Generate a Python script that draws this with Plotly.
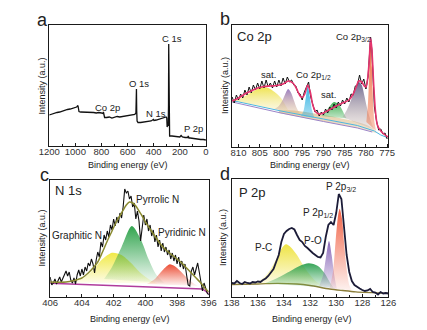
import plotly.graph_objects as go

FONT = "Arial, Liberation Sans, sans-serif"
W, H = 427, 330

# ---------------- Panel a: survey ----------------
SURVEY_BE = [1200, 1180, 1160, 1140, 1120, 1100, 1080, 1060, 1040, 1020,
             1000, 990, 980, 976, 972, 960, 940, 920, 900, 880,
             860, 840, 820, 800, 790, 785, 781, 776, 760, 740,
             720, 700, 680, 660, 640, 620, 600, 580, 560, 545,
             536, 532, 530, 527, 524, 520, 500, 480, 460, 440,
             420, 402, 398, 380, 360, 340, 320, 305, 300, 297,
             293, 289, 286.5, 285, 283.5, 282, 278, 260, 240, 220,
             200, 190, 185, 180, 160, 140, 135, 130, 120, 100,
             80, 60, 40, 20, 0]
SURVEY_I = [31, 32, 32.5, 33.5, 34, 35, 35.5, 36.5, 37, 37.5,
            38.5, 39, 40.5, 37, 34.5, 34, 34, 33.5, 34, 33.5,
            33.5, 33, 33.5, 33, 32.5, 34, 30, 28.5, 28.5, 29,
            28, 29, 29.5, 29, 29.5, 30, 30.5, 30.5, 31, 31.5,
            33, 57, 35, 25, 24, 23.5, 23.5, 24, 24.5, 25,
            25, 26.5, 25.5, 26, 27, 27.5, 28.5, 29, 28, 19,
            21, 20, 40, 102, 30, 11, 10, 10, 9.5, 9.5,
            9, 10.5, 9.5, 9, 8.5, 8.5, 10, 8, 8, 7.5,
            7, 7, 6.5, 6.5, 6]

# ---------------- Panel b: Co 2p ----------------
CO_BE = [811.5, 811, 810.5, 810, 809.5, 809, 808.5, 808, 807.5, 807,
         806.5, 806, 805.5, 805, 804.5, 804, 803.5, 803, 802.5, 802,
         801.5, 801, 800.5, 800, 799.5, 799, 798.5, 798, 797.5, 797,
         796.5, 796, 795.5, 795, 794.5, 794, 793.5, 793, 792.5, 792,
         791.5, 791, 790.5, 790, 789.5, 789, 788.5, 788, 787.5, 787,
         786.5, 786, 785.5, 785, 784.5, 784, 783.5, 783, 782.5, 782,
         781.5, 781, 780.5, 780,
         779.5, 779.2, 778.9, 778.6, 778.3, 778.0, 777.5, 777.0, 776.5, 776.0, 775.5, 775.0]
CO_RAW = [50, 44, 52, 47, 53, 49, 57, 52, 60, 54,
          62, 57, 64, 58, 66, 59, 67, 60, 64, 59,
          66, 60, 67, 61, 69, 63, 70, 65, 67, 62,
          61, 54, 53, 47, 55, 60, 65, 50, 43, 35,
          37, 31, 35, 32, 38, 34, 40, 37, 43, 39,
          45, 41, 47, 43, 49, 45, 53, 52, 61, 62,
          72, 63, 68, 58,
          70, 90, 110, 97, 68, 40, 26, 17, 18, 13, 14, 8]
CO_ENV_BE = [811.5, 810, 808.5, 807, 805.5, 804, 802.5, 801, 799.5, 798.3,
             797.2, 796.3, 795.5, 795, 794.4, 793.7, 793.1, 792.5, 791.8, 791,
             790, 788.5, 787, 785.5, 784, 783, 782.3, 781.7, 781, 780.4,
             780, 779.6, 779.2, 778.9, 778.6, 778.2, 777.8, 777.3, 776.5, 775.5,
             774.8]
CO_ENV = [46, 49, 53, 56, 59, 60.5, 61, 61.5, 63, 66,
          64, 58, 51, 49.5, 53, 62, 55, 42, 35, 33,
          34, 37.5, 41, 44, 47, 53, 60, 66, 65, 61,
          60, 68, 88, 109, 98, 65, 38, 22, 16, 12,
          10]
CO_BG1_BE = [811.5, 800, 790, 782, 778, 776.5, 775]
CO_BG1 = [46.5, 36, 28, 21.5, 16, 12, 9.5]
CO_BG2_BE = [811.5, 800, 790, 782, 778.5]
CO_BG2 = [45, 34, 25.5, 19, 15]
CO_TAN_BE = [800.5, 797, 792, 788, 784, 780.5, 778.5, 777.5, 780, 785, 790, 795, 800.5]
CO_TAN = [37, 36.5, 33.5, 30.5, 27, 23, 19, 14, 17, 21.5, 25.5, 29.5, 34]
CO_SAT1_BE = [811.5, 810, 808, 806, 804.5, 803, 801.5, 800, 799, 798]
CO_SAT1 = [46.5, 48, 52, 57, 60, 59, 55, 49, 42, 35]
CO_P2_BE = [801.5, 800.5, 799.5, 799, 798.3, 797.6, 797, 796.3, 795.5]
CO_P2 = [38, 41, 48, 53, 58, 54, 47, 39, 33]
CO_P3_BE = [795.3, 794.7, 794.2, 793.7, 793.2, 792.7, 792.1]
CO_P3 = [31, 36, 48, 61, 50, 37, 29]
CO_SAT2_BE = [790.5, 789.5, 788.5, 787.5, 786.5, 785.7, 785, 784.5]
CO_SAT2 = [31, 35, 41, 45, 43, 38, 32, 28.5]
CO_P5_BE = [785.5, 784.5, 783.5, 782.5, 781.7, 781, 780.3, 779.5, 778.5, 778]
CO_P5 = [30, 37, 47, 58, 65, 62, 50, 35, 22, 17]
CO_P6_BE = [779.9, 779.5, 779.2, 778.9, 778.6, 778.3, 778, 777.6]
CO_P6 = [25, 45, 75, 108, 80, 45, 25, 16]

# ---------------- Panel c: N 1s ----------------
N_BE = [406.0, 405.9, 405.8, 405.7, 405.6, 405.5, 405.4, 405.3, 405.2, 405.1,
        405.0, 404.9, 404.8, 404.7, 404.6, 404.5, 404.4, 404.3, 404.2, 404.1,
        404.0, 403.9, 403.8, 403.7, 403.6, 403.5, 403.4, 403.3, 403.2, 403.1,
        403.0, 402.9, 402.8, 402.7, 402.6, 402.5, 402.4, 402.3, 402.2, 402.1,
        402.0, 401.9, 401.8, 401.7, 401.6, 401.5, 401.4, 401.3, 401.2, 401.1,
        401.0, 400.9, 400.8, 400.7, 400.6, 400.5, 400.4, 400.3, 400.2, 400.1,
        400.0, 399.9, 399.8, 399.7, 399.6, 399.5, 399.4, 399.3, 399.2, 399.1,
        399.0, 398.9, 398.8, 398.7, 398.6, 398.5, 398.4, 398.3, 398.2, 398.1,
        398.0, 397.9, 397.8, 397.7, 397.6, 397.5, 397.4, 397.3, 397.2, 397.1,
        397.0, 396.9, 396.8, 396.7, 396.6, 396.5, 396.4, 396.3, 396.2, 396.1,
        396.0]
N_RAW = [20, 12, 14, 18, 13, 16, 20, 15, 19, 24,
         26, 21, 25, 17, 14, 19, 13, 22, 27, 21,
         28, 22, 30, 26, 34, 31, 38, 33, 24, 37,
         45, 40, 55, 50, 62, 57, 66, 60, 72, 67,
         78, 71, 80, 74, 84, 79, 90, 108, 104, 106,
         98, 101, 90, 94, 78, 86, 76, 56, 70, 82,
         72, 78, 66, 72, 61, 67, 55, 62, 50, 57,
         46, 54, 45, 50, 42, 47, 38, 44, 36, 42,
         33, 40, 30, 36, 28, 33, 22, 12, 11, 26,
         30, 22, 28, 34, 25, 15, 6, 14, 8, 4,
         2]
N_ENV_BE = [406.0, 405.0, 404.5, 404.0, 403.6, 403.3, 403.0, 402.7, 402.4, 402.1,
            401.8, 401.5, 401.2, 401.0, 400.8, 400.6, 400.4, 400.2, 400.0, 399.7,
            399.4, 399.0, 398.7, 398.4, 398.0, 397.7, 397.4, 397.1, 396.8, 396.5,
            396.2, 396.0]
N_ENV = [15, 15, 16.5, 19, 24, 29, 35, 45, 56, 66,
         76, 84, 92, 95, 94, 91, 86, 81, 75, 68,
         61, 52, 47, 43, 38, 34, 29, 24, 19, 14,
         8, 5]
N_BG_BE = [406.0, 396.4, 396.2, 396.0]
N_BG = [13.7, 8, 6, 3]
N_GRA_BE = [404.8, 404.0, 403.3, 402.7, 402.1, 401.5, 400.9, 400.3, 399.7, 399.2]
N_GRA = [14.5, 18, 27, 38, 44.3, 42, 34, 24, 17, 13.5]
N_PYR_BE = [402.6, 402.1, 401.5, 400.85, 400.3, 399.8, 399.3, 398.8]
N_PYR = [18, 30, 50, 71, 58, 38, 22, 14]
N_PYD_BE = [399.9, 399.4, 398.9, 398.45, 398.0, 397.5, 397.0, 396.7]
N_PYD = [13, 18, 27, 32.7, 29, 21, 14, 11]

# ---------------- Panel d: P 2p ----------------
P_BE = [138.0, 137.8, 137.6, 137.4, 137.2, 137.0, 136.8, 136.6, 136.4, 136.2,
        136.0, 135.8, 135.6, 135.4, 135.2, 135.0, 134.8, 134.6, 134.4, 134.2,
        134.0, 133.8, 133.6, 133.4, 133.2, 133.0, 132.8, 132.6, 132.4, 132.2,
        132.0, 131.8, 131.6, 131.4, 131.2, 131.0, 130.8, 130.6, 130.4, 130.2,
        130.0, 129.8, 129.6, 129.4, 129.2, 129.0, 128.8, 128.6, 128.4, 128.2,
        128.0, 127.8, 127.6, 127.4, 127.2, 127.0, 126.8, 126.6, 126.4, 126.2,
        126.0]
P_RAW = [14, 13.5, 16, 14, 13, 15, 14, 13.5, 15, 14.5,
         15.5, 15, 17, 18.5, 21, 24, 28, 35, 42, 55,
         63, 66, 68, 69, 67.5, 62, 57, 55, 51, 49,
         46, 44, 42, 40, 39.5, 44, 60, 72, 75, 72,
         84, 103, 98, 72, 42, 25, 16, 12, 10, 8.5,
         7, 6, 6.5, 8, 5, 4.5, 2.5, 5, 3.5, 4,
         3.5]
P_BG_BE = [138, 136, 134.5, 133, 132, 130.5, 129.5, 128.5, 126]
P_BG = [12.5, 13, 13.7, 13, 11.5, 8, 6.5, 5.2, 3.7]
P_PC_BE = [136.2, 135.5, 135.0, 134.5, 134.2, 133.85, 133.5, 133.0, 132.5, 132.0, 131.5, 131.0]
P_PC = [13.5, 20, 28, 40, 48, 52.7, 50, 42, 31, 22, 15, 11.5]
P_PO_BE = [135.5, 134.5, 133.5, 132.8, 132.1, 131.4, 130.9, 130.5, 130.2]
P_PO = [13.5, 19, 26, 31, 33.7, 31, 24, 15, 9]
P_P12_BE = [131.3, 131.0, 130.8, 130.55, 130.35, 130.15, 129.95]
P_P12 = [11, 22, 38, 56, 42, 22, 8]
P_P32_BE = [130.5, 130.25, 130.05, 129.85, 129.73, 129.55, 129.4, 129.2, 129.0, 128.8]
P_P32 = [9, 25, 55, 82, 88.3, 78, 55, 28, 12, 6.5]

fig = go.Figure()


def line(x, y, ax, color, width=1.0, shape="linear"):
    fig.add_trace(go.Scatter(x=x, y=y, xaxis="x" + ax, yaxis="y" + ax, mode="lines",
                             line=dict(color=color, width=width, shape=shape, smoothing=0.8),
                             hoverinfo="skip", showlegend=False))


def comp(x, y, ax, rgb, a_top=0.95, a_bot=0.12, bot=None):
    r, g, b = rgb
    bot = bot or (r, g, b)
    fig.add_trace(go.Scatter(x=x, y=y, xaxis="x" + ax, yaxis="y" + ax, mode="lines",
                             fill="toself", line=dict(width=0, shape="spline", smoothing=0.8),
                             fillgradient=dict(type="vertical", colorscale=[
                                 [0, f"rgba({bot[0]},{bot[1]},{bot[2]},{a_bot})"],
                                 [1, f"rgba({r},{g},{b},{a_top})"]]),
                             hoverinfo="skip", showlegend=False))


# a
line(SURVEY_BE, SURVEY_I, "", "#111111", 1.3)

# b
comp(CO_TAN_BE, CO_TAN, "2", (222, 190, 140), 0.8, 0.35)
comp(CO_SAT1_BE, CO_SAT1, "2", (238, 226, 70), 0.95, 0.3, (245, 235, 170))
comp(CO_P2_BE, CO_P2, "2", (150, 120, 190), 0.95, 0.35, (225, 190, 140))
comp(CO_P3_BE, CO_P3, "2", (40, 175, 225), 0.95, 0.35)
comp(CO_SAT2_BE, CO_SAT2, "2", (60, 175, 80), 0.95, 0.3)
comp(CO_P5_BE, CO_P5, "2", (100, 95, 140), 0.95, 0.25, (200, 180, 170))
comp(CO_P6_BE, CO_P6, "2", (240, 100, 50), 0.95, 0.35)
line(CO_BG2_BE, CO_BG2, "2", "#9b84c8", 1.0)
line(CO_BG1_BE, CO_BG1, "2", "#4db6e0", 1.0)
line(CO_BE, CO_RAW, "2", "#111111", 1.0)
line(CO_ENV_BE, CO_ENV, "2", "#e5336d", 1.6, "spline")

# c
comp(N_GRA_BE, N_GRA, "3", (240, 232, 60), 0.95, 0.1)
comp(N_PYR_BE, N_PYR, "3", (40, 160, 70), 0.95, 0.05)
comp(N_PYD_BE, N_PYD, "3", (235, 70, 45), 0.95, 0.05)
line(N_BG_BE, N_BG, "3", "#b03c9c", 1.5)
line(N_BE, N_RAW, "3", "#111111", 1.1)
line(N_ENV_BE, N_ENV, "3", "#8a8a30", 1.5, "spline")

# d
line(P_BG_BE, P_BG, "4", "#8b7d3a", 1.3, "spline")
comp(P_PC_BE, P_PC, "4", (238, 226, 60), 0.95, 0.1)
comp(P_PO_BE, P_PO, "4", (45, 160, 80), 0.95, 0.08)
comp(P_P12_BE, P_P12, "4", (130, 95, 180), 0.95, 0.1)
comp(P_P32_BE, P_P32, "4", (240, 90, 60), 0.95, 0.08)
line(P_BE, P_RAW, "4", "#1c1c38", 1.8)

LINE = "#1a1a1a"


def xax(px0, px1, rng, dtick, minor, tick0):
    return dict(domain=[px0 / W, px1 / W], range=rng, showline=True, linecolor=LINE, linewidth=1,
                mirror=True, showgrid=False, zeroline=False, ticks="inside", ticklen=3,
                tickwidth=1, tickcolor=LINE, tickmode="linear", tick0=tick0, dtick=dtick,
                ticklabelstandoff=-3,
                minor=dict(ticks="inside", ticklen=2, dtick=minor, tick0=tick0, tickcolor=LINE),
                tickfont=dict(size=9.5, color="#333333", family=FONT), fixedrange=True)


def yax(py_top, py_bot, top):
    return dict(domain=[1 - py_bot / H, 1 - py_top / H], range=[0, top], showline=True,
                linecolor=LINE, linewidth=1, mirror=True, showgrid=False, zeroline=False,
                showticklabels=False, ticks="", fixedrange=True)


lay = dict(width=W, height=H, margin=dict(l=0, r=0, t=0, b=0), paper_bgcolor="white",
           plot_bgcolor="white", font=dict(family=FONT, color="#222222"))
lay["xaxis"] = dict(xax(40, 204, [1200, 0], 200, 100, 0), anchor="y")
lay["yaxis"] = dict(yax(25, 146, 121), anchor="x")
lay["xaxis2"] = dict(xax(231, 395, [811.6, 774.7], 5, 2.5, 775), anchor="y2")
lay["yaxis2"] = dict(yax(25, 147, 122), anchor="x2")
lay["xaxis3"] = dict(xax(41, 207, [406, 396], 2, 1, 396), anchor="y3")
lay["yaxis3"] = dict(yax(180, 297, 117), anchor="x3")
lay["xaxis4"] = dict(xax(231, 395, [138, 126], 2, 1, 126), anchor="y4")
lay["yaxis4"] = dict(yax(179, 297, 118), anchor="x4")

ann = []


def note(text, px, py, size=9.5, angle=0):
    ann.append(dict(text=text, x=px / W, y=1 - py / H, xref="paper", yref="paper",
                    xanchor="center", yanchor="middle", showarrow=False, textangle=angle,
                    font=dict(size=size, family=FONT, color="#222222")))


for ttl_x, ttl_y in [(122, 165), (313, 165), (125, 319), (315, 319)]:
    note("Binding energy (eV)", ttl_x, ttl_y, 9)
for ttl_x, ttl_y in [(32, 86), (224, 86), (32, 238), (222, 238)]:
    note("Intensity (a.u.)", ttl_x, ttl_y, 9, -90)

note("a", 32.5, 20, 18)
note("b", 223.5, 19, 18)
note("c", 35.5, 175, 18)
note("d", 224, 174, 18)

note("C 1s", 168, 39)
note("O 1s", 134, 84)
note("Co 2p", 100.5, 107)
note("N 1s", 152, 113)
note("P 2p", 190.5, 128)

note("Co 2p", 254.5, 37, 13)
note("Co 2p<sub>3/2</sub>", 358.7, 37, 9.5)
note("sat.", 269.5, 74, 9.5)
note("Co 2p<sub>1/2</sub>", 317, 75, 9.5)
note("sat.", 332.5, 95, 9.5)

note("N 1s", 60, 190, 13)
note("Pyrrolic N", 153, 199, 10)
note("Graphitic N", 68.7, 235, 10)
note("Pyridinic N", 179, 232, 10)

note("P 2p", 252.5, 192, 13)
note("P 2p<sub>3/2</sub>", 345.5, 187, 10)
note("P 2p<sub>1/2</sub>", 321.5, 213, 10)
note("P-O", 316, 240, 10)
note("P-C", 264.7, 247, 10)

lay["annotations"] = ann
fig.update_layout(**lay)
fig.write_html("out.html", config={"displayModeBar": False},
               post_script="document.body.style.margin='0px';document.body.style.overflow='hidden';")
